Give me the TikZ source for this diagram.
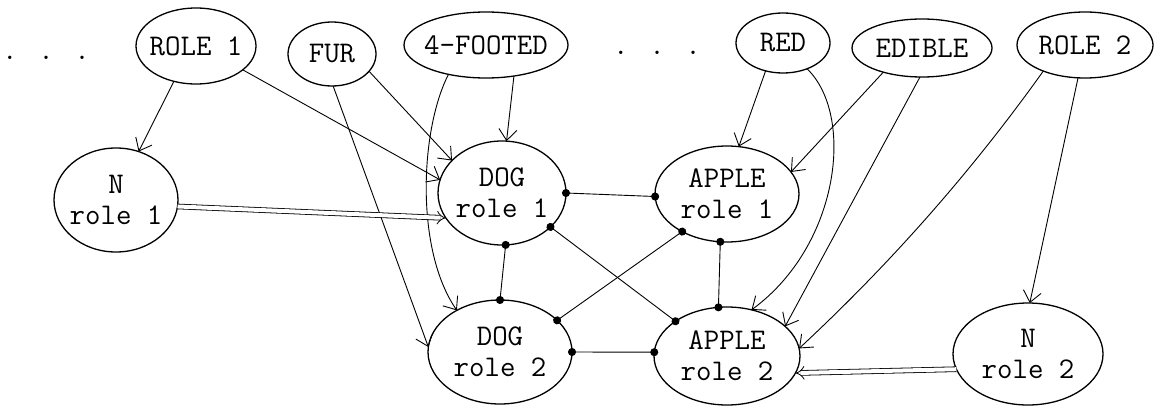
\documentclass[tikz,border=0pt]{standalone}
\usetikzlibrary{shapes.geometric,arrows.meta}
\begin{document}
\begin{tikzpicture}[x=1pt,y=-1pt,
  unit/.style={draw, ellipse, line width=1.3pt, inner sep=0pt, outer sep=0pt},
  txt/.style={font=\fontsize{30}{31}\selectfont\ttfamily, align=center, inner sep=0pt},
  exc/.style={line width=0.9pt, -{Straight Barb[length=11pt,width=18pt]}},
  inh/.style={line width=0.9pt, {Circle[length=8pt]}-{Circle[length=8pt]},
              shorten <=-4pt, shorten >=-4pt},
  fix/.style={double, double distance=4pt, line width=0.8pt, -{Implies[length=7pt,width=16pt]}},
]
\useasboundingbox (0,0) rectangle (1155,406);

% continuation marks
\node[txt, anchor=base] (dotsL) at (46,60) {. . .};
\node[txt, anchor=base] (dotsM) at (657,55) {. . .};

% feature / role units (top row)
\node[unit, minimum width=120pt, minimum height=76pt, label={[txt]center:ROLE 1}] (r1) at (196,46) {};
\node[unit, minimum width=88pt, minimum height=64pt, label={[txt]center:FUR}] (fur) at (332,54) {};
\node[unit, minimum width=164pt, minimum height=66pt, label={[txt]center:4-FOOTED}] (ft) at (486,45) {};
\node[unit, minimum width=94pt, minimum height=60pt, label={[txt]center:RED}] (red) at (783,43) {};
\node[unit, minimum width=140pt, minimum height=58pt, label={[txt]center:EDIBLE}] (edi) at (922,48) {};
\node[unit, minimum width=136pt, minimum height=66pt, label={[txt]center:ROLE 2}] (r2) at (1085,45) {};

% role-specific units
\node[unit, minimum width=124pt, minimum height=104pt, label={[txt]center:{N\\role 1}}] (n1) at (116,200) {};
\node[unit, minimum width=128pt, minimum height=104pt, label={[txt]center:{DOG\\role 1}}] (d1) at (502,193) {};
\node[unit, minimum width=144pt, minimum height=96pt, label={[txt]center:{APPLE\\role 1}}] (a1) at (727,194) {};
\node[unit, minimum width=144pt, minimum height=104pt, label={[txt]center:{DOG\\role 2}}] (d2) at (500,352) {};
\node[unit, minimum width=146pt, minimum height=98pt, label={[txt]center:{APPLE\\role 2}}] (a2) at (727,356) {};
\node[unit, minimum width=150pt, minimum height=102pt, label={[txt]center:{N\\role 2}}] (n2) at (1028,354) {};

% excitatory links
\draw[exc] (r1.-122) -- (n1.65);
\draw[exc] (r1.-27) -- (d1.168);
\draw[exc] (fur.-25) -- (d1.147);
\draw[exc] (fur.-88) -- (d2.176);
\draw[exc] (ft.-48) -- (d1.85);
\draw[exc] (ft.-142) .. controls (420,130) and (415,250) .. (d2.136);
\draw[exc] (red.-122) -- (a1.76);
\draw[exc] (red.-47) .. controls (855,115) and (840,245) .. (a2.62);
\draw[exc] (edi.-148) -- (a1.19);
\draw[exc] (edi.-94) -- (a2.27);
\draw[exc] (r2.-148) .. controls (972,171) and (891,263) .. (a2.6);
\draw[exc] (r2.-102) -- (n2.88);

% fixed connections from the role units
\draw[fix] (n1.-6) -- (d1.204);
\draw[fix] (n2.192) -- (a2.-14);

% mutual inhibition
\draw[inh] (d1.0) -- (a1.182);
\draw[inh] (d1.-86) -- (d2.90);
\draw[inh] (d1.-35) -- (a2.146);
\draw[inh] (a1.-140) -- (d2.29);
\draw[inh] (a1.-98) -- (a2.100);
\draw[inh] (d2.0) -- (a2.177);
\end{tikzpicture}
\end{document}
